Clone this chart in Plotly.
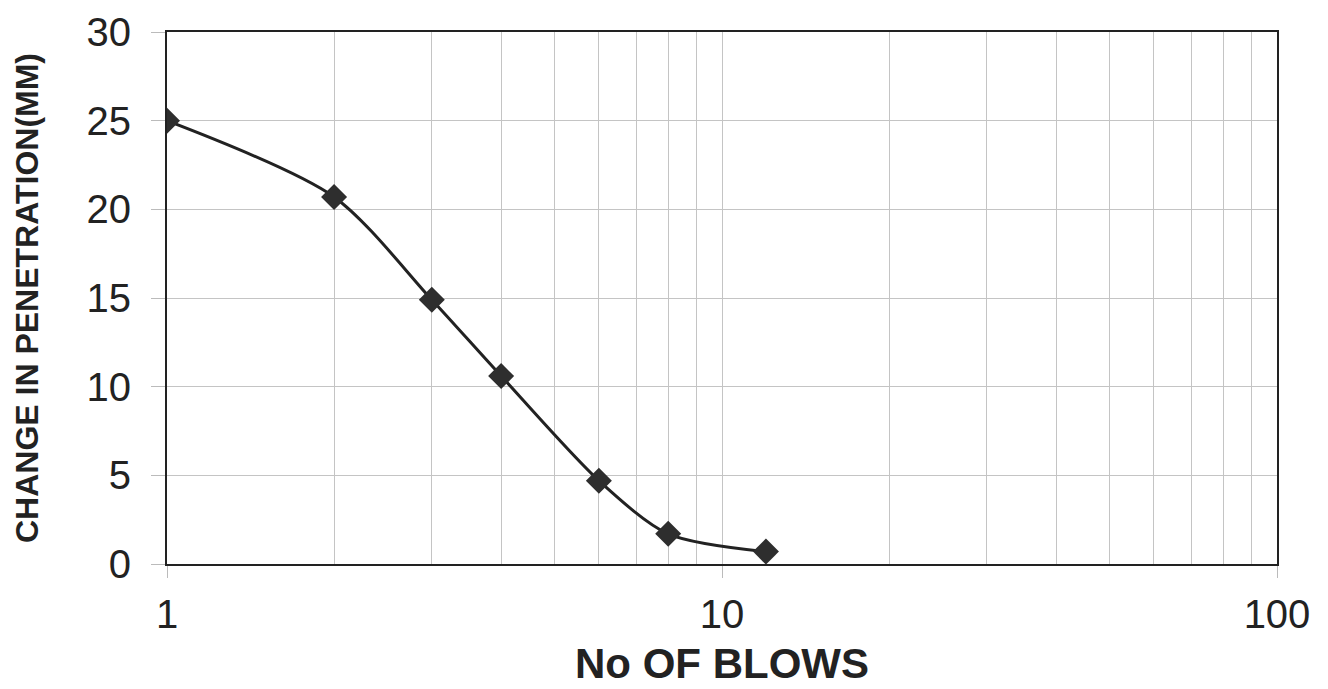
import plotly.graph_objects as go

blows = [1, 2, 3, 4, 6, 8, 12]
penetration = [25.0, 20.7, 14.9, 10.6, 4.7, 1.7, 0.7]
x_ticks = [1, 10, 100]
y_ticks = [0, 5, 10, 15, 20, 25, 30]

fig = go.Figure()
fig.add_trace(go.Scatter(
    x=blows, y=penetration, mode="lines+markers",
    line=dict(color="#222222", width=3, shape="spline", smoothing=0.8),
    marker=dict(symbol="diamond", size=20, color="#2e2e2e"),
    showlegend=False,
))

fig.update_layout(
    width=1328, height=689,
    margin=dict(l=159, r=59, t=24, b=133),
    paper_bgcolor="white", plot_bgcolor="white",
    font=dict(family="Liberation Sans, Arial, sans-serif", color="#222222"),
)
fig.update_xaxes(
    type="log", range=[0, 2], automargin=False,
    tickvals=x_ticks, ticktext=[str(v) for v in x_ticks],
    tickfont=dict(size=40),
    showgrid=True, gridcolor="#c4c4c4", gridwidth=1,
    minor=dict(dtick="D1", showgrid=True, gridcolor="#c4c4c4", ticks=""),
    ticks="outside", ticklen=12, tickcolor="#bbbbbb",
    ticklabelstandoff=2,
    showline=True, linecolor="#222222", linewidth=2, mirror=True,
    title=dict(text="<b>No OF BLOWS</b>", font=dict(size=42), standoff=14),
    zeroline=False,
)
fig.update_yaxes(
    range=[0, 30], tickvals=y_ticks, automargin=False,
    tickfont=dict(size=40),
    showgrid=True, gridcolor="#c4c4c4", gridwidth=1,
    ticks="outside", ticklen=14, tickcolor="#bbbbbb",
    ticklabelstandoff=12,
    showline=True, linecolor="#222222", linewidth=2, mirror=True,
    title=dict(text="<b>CHANGE IN PENETRATION(MM)</b>", font=dict(size=32), standoff=38),
    zeroline=False,
)

fig.write_html("out.html")
